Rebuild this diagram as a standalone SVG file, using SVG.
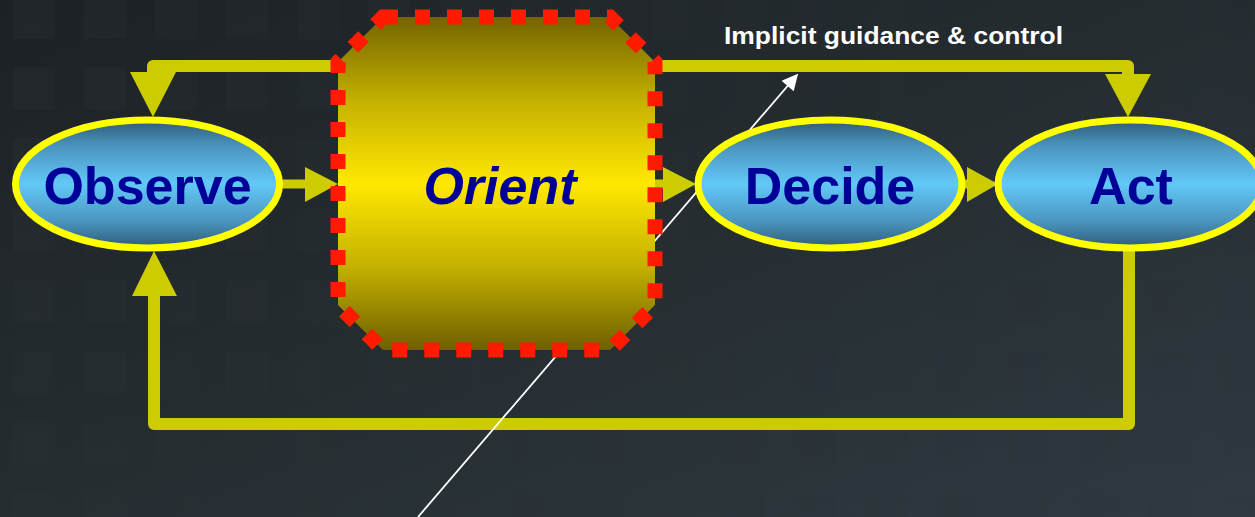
<svg xmlns="http://www.w3.org/2000/svg" width="1255" height="517" viewBox="0 0 1255 517">
<style>
.conn{fill:none;stroke:#cccc00;stroke-width:12;stroke-linejoin:round}
.thin{stroke-width:9}
.head{fill:#cccc00}
.node{fill:url(#ellGrad);stroke:#ffff00;stroke-width:7}
.lbl{font-family:"Liberation Sans",Arial,sans-serif;font-weight:bold;font-size:52px;fill:#000099;text-anchor:middle}
.note{font-family:"Liberation Sans",Arial,sans-serif;font-weight:bold;font-size:24px;fill:#ffffff}
</style>
<defs>
<linearGradient id="bg" x1="0" y1="0" x2="1" y2="1">
<stop offset="0" stop-color="#1d2125"/>
<stop offset="0.5" stop-color="#252d31"/>
<stop offset="1" stop-color="#2f3a41"/>
</linearGradient>
<linearGradient id="fade" x1="0" y1="0" x2="1" y2="0">
<stop offset="0" stop-color="#fff" stop-opacity="1"/>
<stop offset="0.55" stop-color="#fff" stop-opacity="0.5"/>
<stop offset="1" stop-color="#fff" stop-opacity="0.15"/>
</linearGradient>
<mask id="fadeMask"><rect width="1255" height="517" fill="url(#fade)"/></mask>
<pattern id="grid" x="13" y="-4" width="71" height="71" patternUnits="userSpaceOnUse">
<rect x="0" y="0" width="42" height="43" rx="4" fill="#2b3236" opacity="0.3"/>
</pattern>
<linearGradient id="ellGrad" x1="0" y1="0" x2="0" y2="1">
<stop offset="0" stop-color="#2e5a78"/>
<stop offset="0.2" stop-color="#4a93bd"/>
<stop offset="0.5" stop-color="#62c8f8"/>
<stop offset="0.8" stop-color="#4a93bd"/>
<stop offset="1" stop-color="#2e5a78"/>
</linearGradient>
<linearGradient id="oriGrad" x1="0" y1="0" x2="0" y2="1">
<stop offset="0" stop-color="#736400"/>
<stop offset="0.25" stop-color="#c4b000"/>
<stop offset="0.5" stop-color="#ffe800"/>
<stop offset="0.75" stop-color="#c4b000"/>
<stop offset="1" stop-color="#6e6000"/>
</linearGradient>
<marker id="wArrow" viewBox="0 0 10 10" refX="9" refY="5" markerUnits="userSpaceOnUse" markerWidth="22" markerHeight="16" orient="auto">
<path d="M0,0 L10,5 L0,10 Z" fill="#ffffff"/>
</marker>
</defs>
<rect width="1255" height="517" fill="url(#bg)"/>
<rect width="1255" height="517" fill="url(#grid)" mask="url(#fadeMask)"/>

<g id="connectors">
<path class="conn" d="M338,66 H153 V78"/>
<polygon class="head" points="130,72 176,72 153,117"/>
<path class="conn" d="M655,66 H1128 V78"/>
<polygon class="head" points="1105,74 1151,74 1128,117"/>
<path class="conn thin" d="M280,184 H308"/>
<polygon class="head" points="305,167 305,202 338,184"/>
<path class="conn thin" d="M650,184 H666"/>
<polygon class="head" points="663,167 663,202 696,184"/>
<path class="conn thin" d="M962,184 H970"/>
<polygon class="head" points="967,167 967,202 998,184"/>
<path class="conn" d="M1129,248 V424 H154 V292"/>
<polygon class="head" points="132,296 177,296 154,251"/>
<line x1="418" y1="517" x2="797" y2="75" stroke="#ffffff" stroke-width="1.8" marker-end="url(#wArrow)"/>
</g>

<g id="observe">
<ellipse class="node" cx="147.5" cy="184" rx="132" ry="64"/>
<text class="lbl" x="147.5" y="204">Observe</text>
</g>

<g id="orient">
<polygon points="383,17 610,17 655,62 655,305 610,350 383,350 338,305 338,62" fill="url(#oriGrad)" stroke="#ff1a00" stroke-width="15" stroke-dasharray="15 17"/>
<text class="lbl" x="500" y="204" font-style="italic">Orient</text>
</g>

<g id="decide">
<ellipse class="node" cx="830" cy="184" rx="132" ry="64"/>
<text class="lbl" x="830" y="204">Decide</text>
</g>

<g id="act">
<ellipse class="node" cx="1130" cy="184" rx="132" ry="64"/>
<text class="lbl" x="1131" y="204">Act</text>
</g>

<g id="label">
<text class="note" x="724" y="44" textLength="339" lengthAdjust="spacingAndGlyphs">Implicit guidance &amp; control</text>
</g>
</svg>
